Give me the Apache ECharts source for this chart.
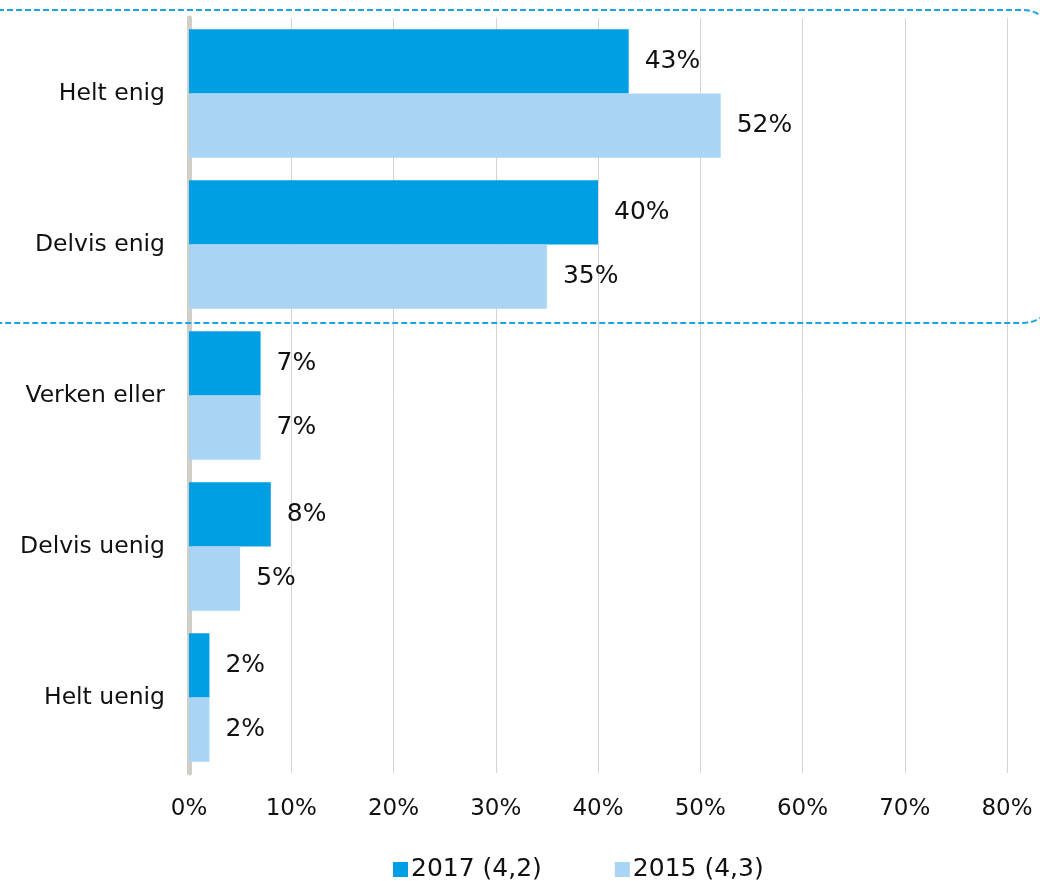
<!DOCTYPE html>
<html>
<head>
<meta charset="utf-8">
<script src="https://cdn.jsdelivr.net/npm/echarts@6/dist/echarts.min.js"></script>
<style>
  html, body { margin: 0; padding: 0; background: #ffffff; }
  #chart { width: 1040px; height: 881px; }
</style>
</head>
<body>
<div id="chart"></div>
<script>
// Survey answers, 2017 vs 2015 (share of respondents, %)
const categories = ['Helt enig', 'Delvis enig', 'Verken eller', 'Delvis uenig', 'Helt uenig'];
const seriesNames = ['2017 (4,2)', '2015 (4,3)'];
const values2017 = [43, 40, 7, 8, 2];
const values2015 = [52, 35, 7, 5, 2];
const xTicks = [0, 10, 20, 30, 40, 50, 60, 70, 80];

const FONT = '"DejaVu Sans", Verdana, sans-serif';
const DARK = '#009FE3';
const LIGHT = '#A9D4F4';

const chart = echarts.init(document.getElementById('chart'), null, { renderer: 'canvas' });

function barSeries(name, data, color) {
  return {
    name: name,
    type: 'bar',
    data: data,
    barGap: '0%',
    barCategoryGap: '15%',
    itemStyle: { color: color },
    label: {
      show: true,
      position: 'right',
      distance: 16,
      color: '#111111',
      fontFamily: FONT,
      fontSize: 25,
      formatter: p => Math.round(p.value) + '%'
    }
  };
}

chart.setOption({
  animation: false,
  textStyle: { fontFamily: FONT },
  grid: { left: 189, right: 33, top: 18, bottom: 108, containLabel: false },
  legend: {
    left: 388,
    top: 852,
    itemWidth: 15,
    itemHeight: 15,
    itemGap: 73,
    icon: 'rect',
    textStyle: { fontFamily: FONT, fontSize: 25, color: '#111111', padding: [0, 0, 0, -2] },
    data: seriesNames
  },
  xAxis: {
    type: 'value',
    min: xTicks[0],
    max: xTicks[xTicks.length - 1],
    interval: 10,
    axisLine: { show: false },
    axisTick: { show: false },
    axisLabel: {
      formatter: v => v + '%',
      fontFamily: FONT,
      fontSize: 23,
      color: '#111111',
      margin: 25
    },
    splitLine: { show: true, lineStyle: { color: '#d4d4d4', width: 1 } }
  },
  yAxis: {
    type: 'category',
    data: categories,
    inverse: true,
    offset: 2,
    axisLine: { show: true, lineStyle: { color: '#cfcfc7', width: 5 } },
    axisTick: { show: false },
    axisLabel: {
      fontFamily: FONT,
      fontSize: 23.5,
      color: '#111111',
      margin: 22
    }
  },
  series: [
    barSeries(seriesNames[0], values2017, DARK),
    barSeries(seriesNames[1], values2015, LIGHT)
  ],
  graphic: [{
    type: 'rect',
    z: 100,
    silent: true,
    shape: { x: -60, y: 10, width: 1114, height: 313, r: 31 },
    style: {
      fill: 'none',
      stroke: '#1BA3E6',
      lineWidth: 2,
      lineDash: [6, 3]
    }
  }]
});
</script>
</body>
</html>
